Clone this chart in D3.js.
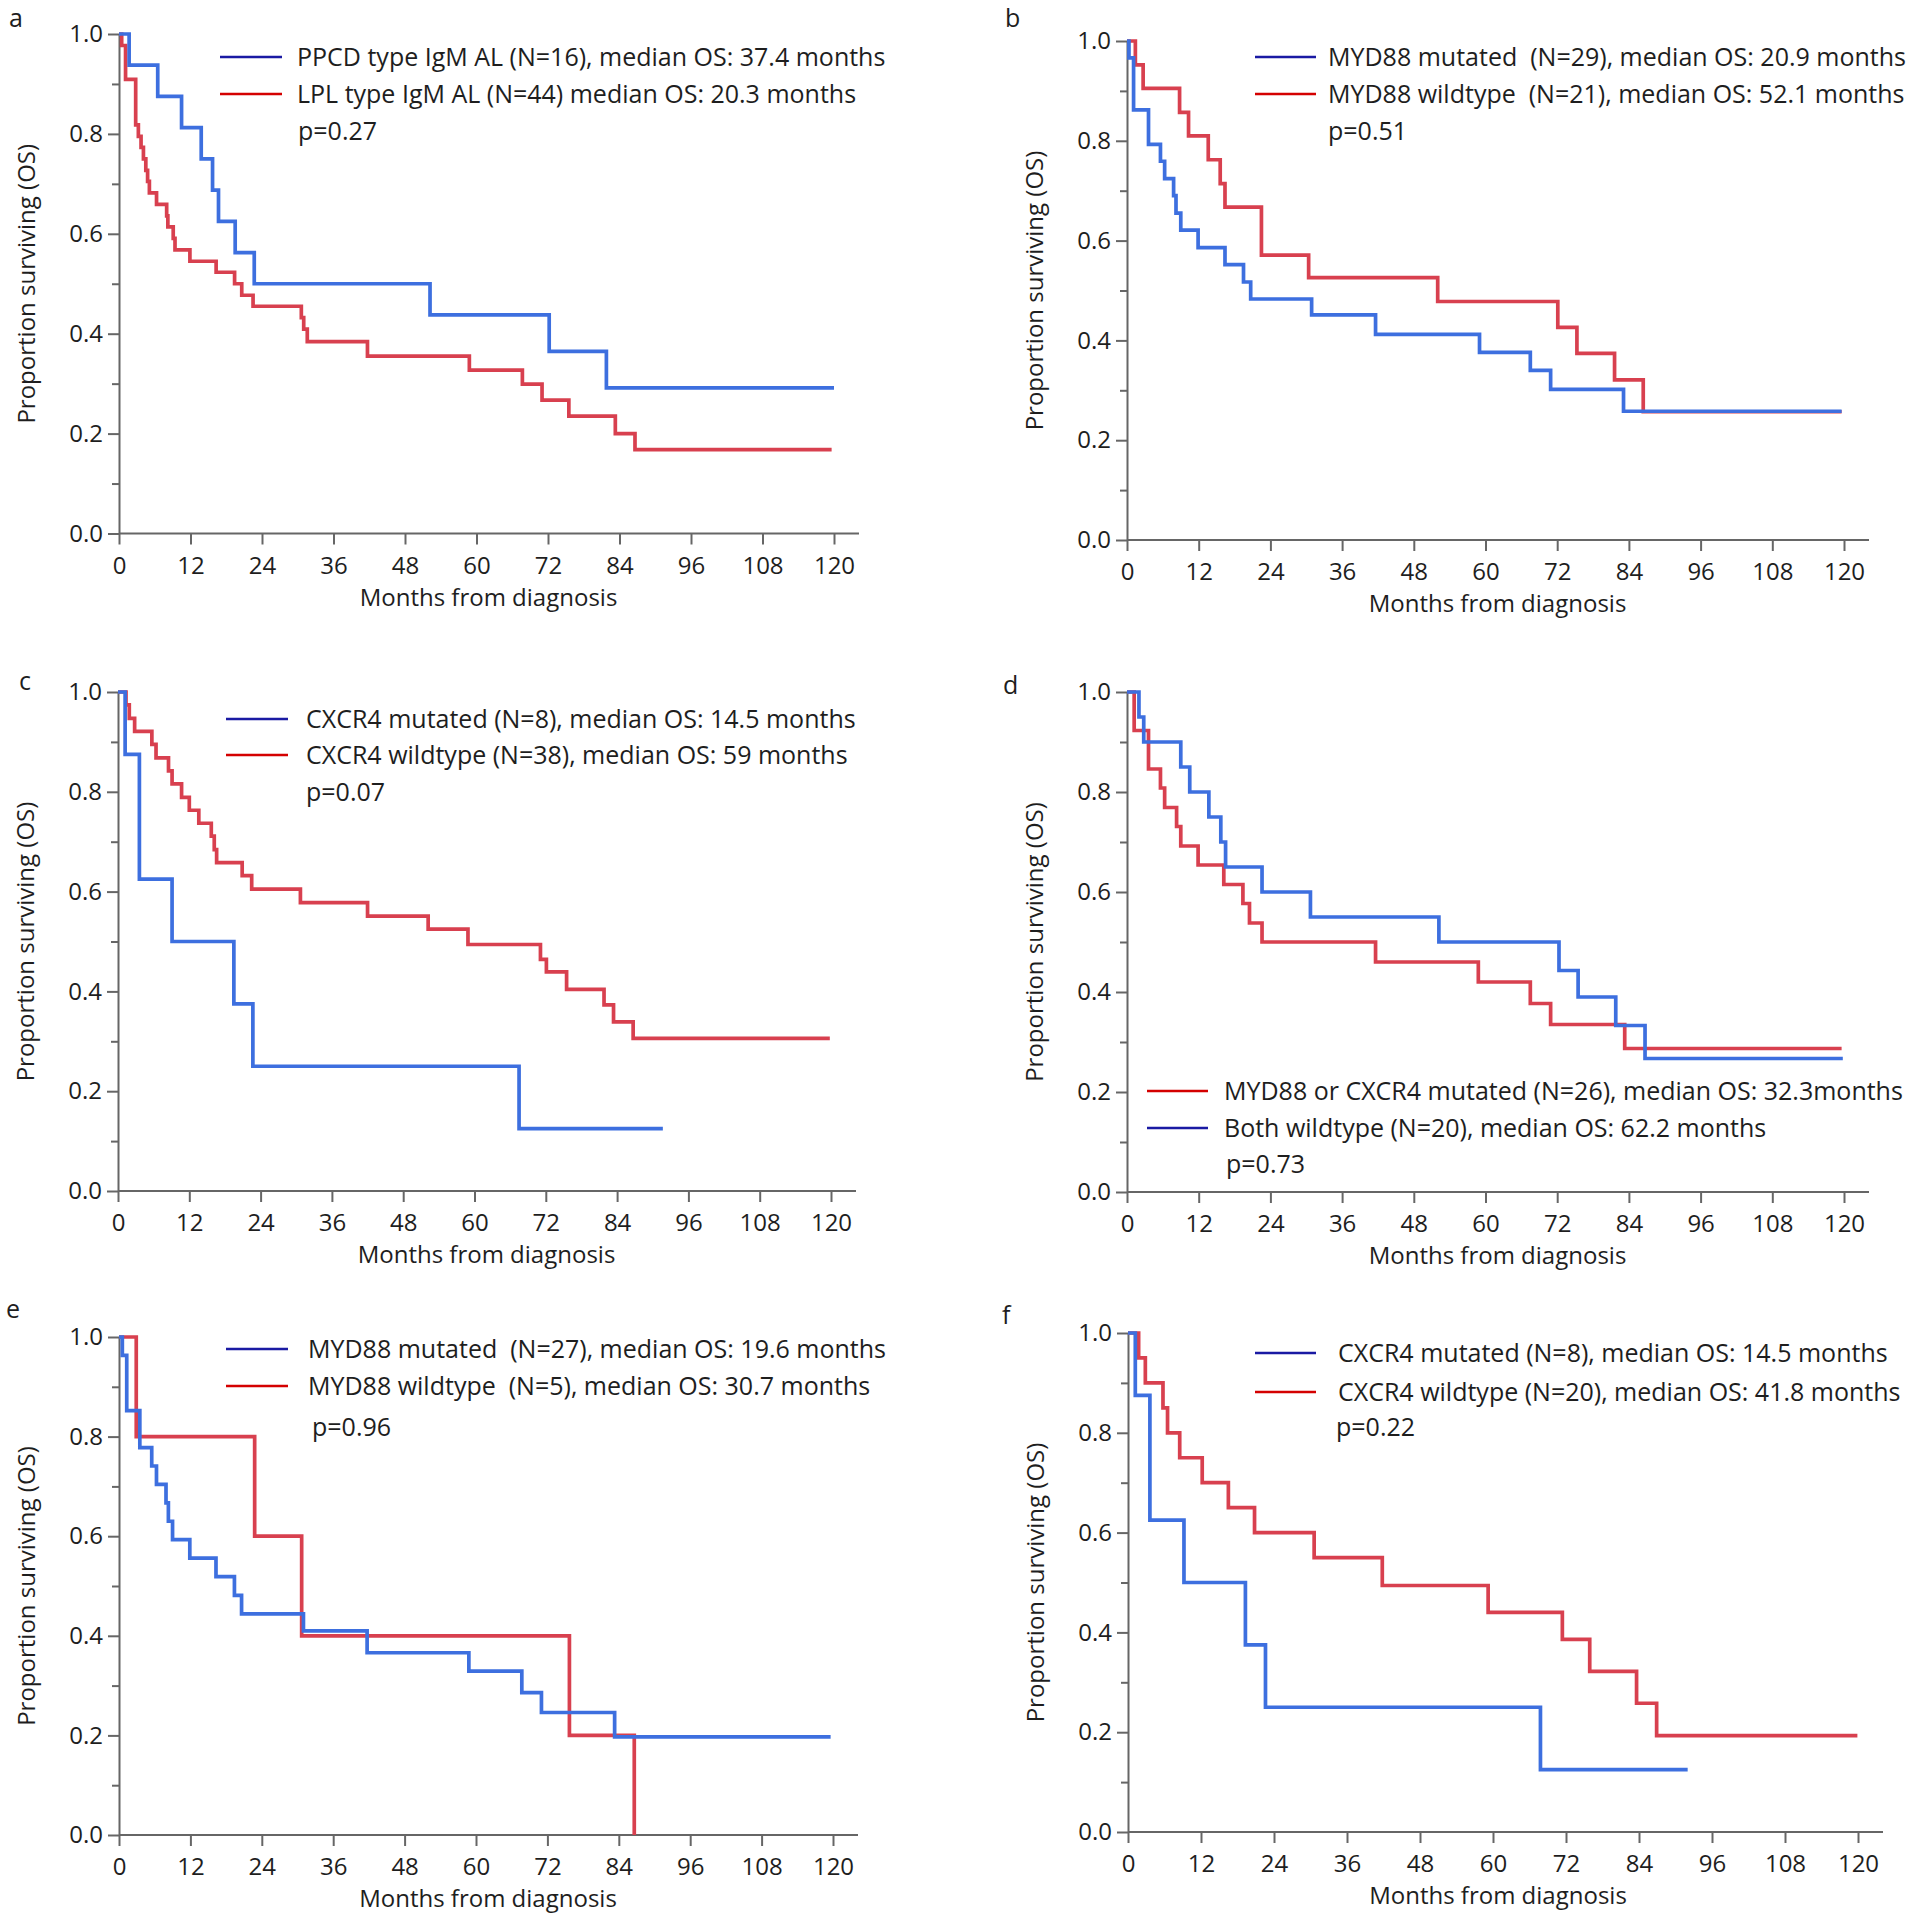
<!DOCTYPE html>
<html>
<head>
<meta charset="utf-8">
<script src="https://cdn.jsdelivr.net/npm/d3@7"></script>
<style>
  body { margin: 0; background: #fff; }
  svg text { font-family: "Open Sans", "Noto Sans", sans-serif; fill: #1e1e1e; white-space: pre; }
</style>
</head>
<body>
<svg id="chart" width="1911" height="1920"></svg>
<script>
/* ============================================================
   DATA (months, proportion surviving)
============================================================ */
const monthTicks = [0, 12, 24, 36, 48, 60, 72, 84, 96, 108, 120];
const survMajor = [0, 0.2, 0.4, 0.6, 0.8, 1.0];
const survMinor = [0.1, 0.3, 0.5, 0.7, 0.9];
const panelLetters = ["a", "b", "c", "d", "e", "f"];

// a
const aBlueTime = [0, 1.7, 6.5, 10.5, 13.8, 15.7, 16.7, 19.5, 22.7, 52.2, 72.2, 81.8, 120];
const aBlueSurv = [1, 0.9375, 0.875, 0.8125, 0.75, 0.6875, 0.625, 0.5625, 0.5, 0.4375, 0.3646, 0.2917, 0.2917];
const aRedTime = [0, 0.45, 1.1, 2.8, 3.25, 3.7, 4.1, 4.5, 4.8, 5.1, 6.3, 8.0, 8.2, 9.1, 9.4, 11.9, 16.3, 19.4, 20.6, 22.5, 30.6, 31.0, 31.6, 41.7, 58.8, 67.7, 71.0, 75.5, 83.3, 86.6, 119.6];
const aRedSurv = [1, 0.977, 0.909, 0.818, 0.795, 0.773, 0.75, 0.727, 0.705, 0.682, 0.659, 0.636, 0.614, 0.591, 0.568, 0.545, 0.523, 0.50, 0.477, 0.455, 0.432, 0.409, 0.384, 0.355, 0.327, 0.299, 0.267, 0.235, 0.2, 0.168, 0.168];
const aLabels = ["PPCD type IgM AL (N=16), median OS: 37.4 months", "LPL type IgM AL (N=44) median OS: 20.3 months", "p=0.27"];

// b
const bBlueTime = [0, 0.33, 1.1, 3.6, 5.6, 6.3, 7.8, 8.2, 9.0, 11.9, 16.4, 19.5, 20.7, 30.9, 41.6, 59.0, 67.5, 70.9, 83.1, 119.6];
const bBlueSurv = [1, 0.966, 0.862, 0.793, 0.759, 0.724, 0.690, 0.655, 0.621, 0.586, 0.552, 0.517, 0.483, 0.451, 0.412, 0.376, 0.340, 0.302, 0.258, 0.258];
const bRedTime = [0, 1.4, 2.7, 8.8, 10.3, 13.6, 15.6, 16.4, 22.5, 30.4, 52.0, 72.1, 75.3, 81.6, 86.4, 119.6];
const bRedSurv = [1, 0.952, 0.905, 0.857, 0.810, 0.762, 0.714, 0.667, 0.571, 0.526, 0.478, 0.426, 0.374, 0.321, 0.257, 0.257];
const bLabels = ["MYD88 mutated  (N=29), median OS: 20.9 months", "MYD88 wildtype  (N=21), median OS: 52.1 months", "p=0.51"];

// c
const cBlueTime = [0, 1.2, 3.6, 9.1, 19.5, 22.7, 67.5, 91.7];
const cBlueSurv = [1, 0.875, 0.625, 0.5, 0.375, 0.25, 0.125, 0.125];
const cRedTime = [0, 1.35, 1.9, 2.8, 5.7, 6.4, 8.5, 9.1, 10.7, 12.0, 13.6, 15.7, 16.2, 16.6, 20.9, 22.5, 30.7, 42.0, 52.2, 58.9, 71.1, 72.1, 75.5, 81.8, 83.4, 86.7, 119.8];
const cRedSurv = [1, 0.974, 0.947, 0.921, 0.895, 0.868, 0.842, 0.816, 0.789, 0.763, 0.737, 0.711, 0.684, 0.658, 0.632, 0.605, 0.578, 0.551, 0.525, 0.494, 0.464, 0.439, 0.404, 0.373, 0.339, 0.306, 0.306];
const cLabels = ["CXCR4 mutated (N=8), median OS: 14.5 months", "CXCR4 wildtype (N=38), median OS: 59 months", "p=0.07"];

// d
const dBlueTime = [0, 2.0, 2.8, 9.0, 10.5, 13.7, 15.7, 16.5, 22.6, 30.7, 52.2, 72.3, 75.5, 81.8, 86.7, 119.8];
const dBlueSurv = [1, 0.95, 0.9, 0.85, 0.8, 0.75, 0.70, 0.65, 0.60, 0.55, 0.50, 0.443, 0.39, 0.333, 0.267, 0.267];
const dRedTime = [0, 1.2, 3.6, 5.6, 6.3, 8.3, 9.0, 11.9, 16.2, 19.4, 20.5, 22.6, 41.6, 58.8, 67.5, 70.9, 83.3, 119.6];
const dRedSurv = [1, 0.923, 0.846, 0.808, 0.769, 0.731, 0.692, 0.654, 0.615, 0.577, 0.538, 0.50, 0.46, 0.42, 0.377, 0.335, 0.287, 0.287];
const dLabels = ["MYD88 or CXCR4 mutated (N=26), median OS: 32.3months", "Both wildtype (N=20), median OS: 62.2 months", "p=0.73"];

// e
const eBlueTime = [0, 0.56, 1.3, 3.5, 5.5, 6.3, 7.9, 8.3, 9.0, 11.9, 16.3, 19.4, 20.6, 31.0, 41.7, 58.8, 67.7, 71.0, 83.3, 119.6];
const eBlueSurv = [1, 0.963, 0.852, 0.778, 0.741, 0.704, 0.667, 0.630, 0.593, 0.556, 0.519, 0.481, 0.444, 0.41, 0.366, 0.329, 0.286, 0.246, 0.197, 0.197];
const eRedTime = [0, 2.9, 22.8, 30.7, 75.7, 86.6];
const eRedSurv = [1, 0.8, 0.6, 0.4, 0.2, 0];
const eLabels = ["MYD88 mutated  (N=27), median OS: 19.6 months", "MYD88 wildtype  (N=5), median OS: 30.7 months", "p=0.96"];

// f
const fBlueTime = [0, 1.2, 3.6, 9.2, 19.3, 22.6, 67.8, 92.0];
const fBlueSurv = [1, 0.875, 0.625, 0.5, 0.375, 0.25, 0.125, 0.125];
const fRedTime = [0, 1.75, 2.85, 5.75, 6.5, 8.5, 12.2, 16.5, 20.8, 30.6, 41.8, 59.2, 71.4, 75.9, 83.6, 86.9, 119.9];
const fRedSurv = [1, 0.95, 0.9, 0.85, 0.8, 0.75, 0.70, 0.65, 0.60, 0.55, 0.494, 0.44, 0.386, 0.322, 0.258, 0.193, 0.193];
const fLabels = ["CXCR4 mutated (N=8), median OS: 14.5 months", "CXCR4 wildtype (N=20), median OS: 41.8 months", "p=0.22"];

/* ============================================================
   STYLE
============================================================ */
const curveBlue = "#3d6fdf";
const curveRed = "#d8404f";
const keyBlue = "#1a1aa3";
const keyRed = "#d40000";
const axisGrey = "#666";

const zip = (t, s) => t.map((v, i) => [v, s[i]]);

const panels = [
  { left: 119, right: 834, top: 34, bottom: 533.5, letter: [9, 27], titleShift: 0,
    series: [[aRedTime, aRedSurv, curveRed], [aBlueTime, aBlueSurv, curveBlue]],
    labels: aLabels, keys: [keyBlue, keyRed], key: { x1: 220, x2: 282, tx: 297, y: [57, 94], px: 298, py: 131 } },
  { left: 1127, right: 1844, top: 41, bottom: 540, letter: [1005, 27], titleShift: 0,
    series: [[bRedTime, bRedSurv, curveRed], [bBlueTime, bBlueSurv, curveBlue]],
    labels: bLabels, keys: [keyBlue, keyRed], key: { x1: 1255, x2: 1316, tx: 1328, y: [57, 94], px: 1328, py: 131 } },
  { left: 118, right: 831, top: 692, bottom: 1191, letter: [19, 690], titleShift: 0,
    series: [[cRedTime, cRedSurv, curveRed], [cBlueTime, cBlueSurv, curveBlue]],
    labels: cLabels, keys: [keyBlue, keyRed], key: { x1: 226, x2: 288, tx: 306, y: [719, 755], px: 306, py: 792 } },
  { left: 1127, right: 1844, top: 692, bottom: 1192, letter: [1003, 694], titleShift: 0,
    series: [[dRedTime, dRedSurv, curveRed], [dBlueTime, dBlueSurv, curveBlue]],
    labels: dLabels, keys: [keyRed, keyBlue], key: { x1: 1147, x2: 1208, tx: 1224, y: [1091, 1128], px: 1226, py: 1164 } },
  { left: 119, right: 833, top: 1337, bottom: 1835, letter: [6, 1318], titleShift: 0,
    series: [[eRedTime, eRedSurv, curveRed], [eBlueTime, eBlueSurv, curveBlue]],
    labels: eLabels, keys: [keyBlue, keyRed], key: { x1: 226, x2: 288, tx: 308, y: [1349, 1386], px: 312, py: 1427 } },
  { left: 1128, right: 1858, top: 1333, bottom: 1832, letter: [1002, 1324], titleShift: -7,
    series: [[fRedTime, fRedSurv, curveRed], [fBlueTime, fBlueSurv, curveBlue]],
    labels: fLabels, keys: [keyBlue, keyRed], key: { x1: 1255, x2: 1316, tx: 1338, y: [1353, 1392], px: 1336, py: 1427 } }
];

/* ============================================================
   DRAW
============================================================ */
const svg = d3.select("#chart");

panels.forEach((p, i) => {
  const g = svg.append("g");
  const x = d3.scaleLinear().domain([0, 120]).range([p.left, p.right]);
  const y = d3.scaleLinear().domain([0, 1]).range([p.bottom, p.top]);

  // x axis (the drawn baseline runs a little past 120)
  const xAxis = g.append("g").attr("transform", `translate(0,${p.bottom})`)
    .call(d3.axisBottom(x).tickValues(monthTicks).tickSize(11).tickPadding(12).tickSizeOuter(0));
  xAxis.select(".domain").remove();
  g.append("line").attr("x1", p.left).attr("x2", p.right + 25)
    .attr("y1", p.bottom).attr("y2", p.bottom)
    .attr("stroke", axisGrey).attr("stroke-width", 2);

  // y axis, major + minor ticks
  const yAxis = g.append("g").attr("transform", `translate(${p.left},0)`)
    .call(d3.axisLeft(y).tickValues(survMajor).tickFormat(d3.format(".1f")).tickSize(11).tickPadding(5).tickSizeOuter(0));
  yAxis.select(".domain").attr("stroke", axisGrey).attr("stroke-width", 2);
  g.append("g").attr("transform", `translate(${p.left},0)`)
    .call(d3.axisLeft(y).tickValues(survMinor).tickFormat("").tickSize(7).tickSizeOuter(0))
    .call(a => a.select(".domain").remove());

  g.selectAll(".tick line").attr("stroke", axisGrey).attr("stroke-width", 2);
  g.selectAll(".tick text").attr("font-size", 24).attr("fill", "#1e1e1e")
    .attr("font-family", "\"Open Sans\", sans-serif");

  // axis titles
  g.append("text").attr("x", (p.left + p.right) / 2 + 12 + p.titleShift).attr("y", p.bottom + 72)
    .attr("text-anchor", "middle").attr("font-size", 24).text("Months from diagnosis");
  g.append("text")
    .attr("transform", `translate(${p.left - 84},${(p.top + p.bottom) / 2}) rotate(-90)`)
    .attr("text-anchor", "middle").attr("font-size", 24).text("Proportion surviving (OS)");

  // panel letter
  g.append("text").attr("x", p.letter[0]).attr("y", p.letter[1])
    .attr("font-size", 25).text(panelLetters[i]);

  // survival curves
  const line = d3.line().x(d => x(d[0])).y(d => y(d[1])).curve(d3.curveStepAfter);
  p.series.forEach(([t, s, col]) => {
    g.append("path").datum(zip(t, s)).attr("d", line)
      .attr("fill", "none").attr("stroke", col).attr("stroke-width", 3.7)
      .attr("stroke-linejoin", "miter");
  });

  // legend
  p.key.y.forEach((ly, k) => {
    g.append("line").attr("x1", p.key.x1).attr("x2", p.key.x2).attr("y1", ly).attr("y2", ly)
      .attr("stroke", p.keys[k]).attr("stroke-width", 2.5);
    g.append("text").attr("x", p.key.tx).attr("y", ly).attr("dy", "0.35em")
      .attr("font-size", 25).text(p.labels[k]);
  });
  g.append("text").attr("x", p.key.px).attr("y", p.key.py).attr("dy", "0.35em")
    .attr("font-size", 25).text(p.labels[2]);
});
</script>
</body>
</html>
